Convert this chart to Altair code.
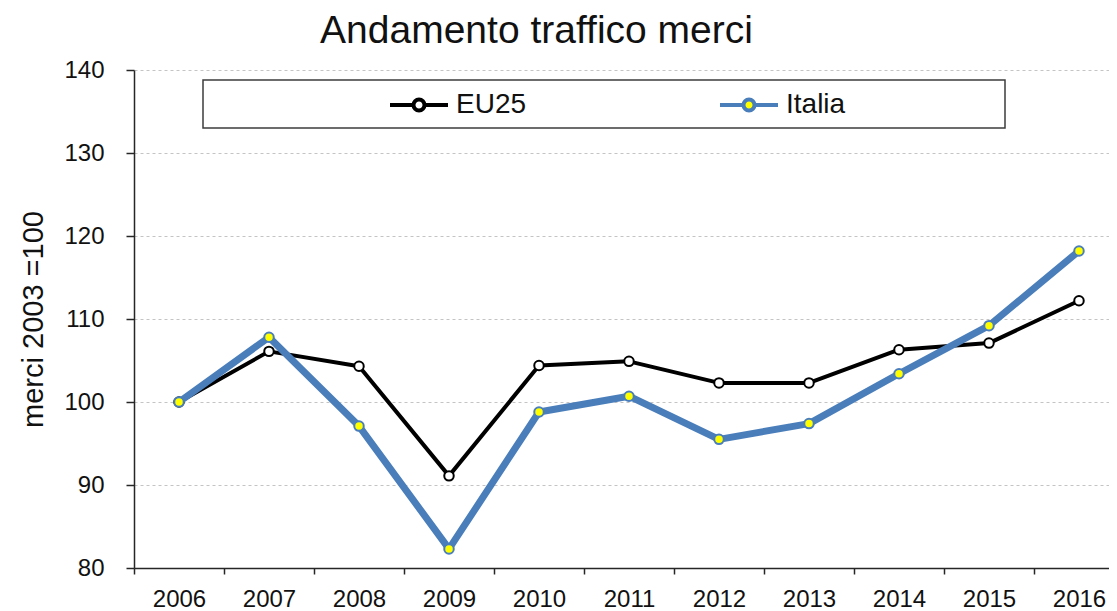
import altair as alt
import pandas as pd

# ---- data ----
years = [str(y) for y in range(2006, 2017)]
eu25 = [100.0, 106.1, 104.3, 91.1, 104.4, 104.9, 102.3, 102.3, 106.3, 107.1, 112.2]
italia = [100.0, 107.8, 97.1, 82.3, 98.8, 100.7, 95.5, 97.4, 103.4, 109.2, 118.2]
series_names = ["EU25", "Italia"]
y_ticks = [80, 90, 100, 110, 120, 130, 140]
title_text = "Andamento traffico merci"
y_title = "merci 2003 =100"

df = pd.DataFrame({
    "anno": years * 2,
    "valore": eu25 + italia,
    "serie": ["EU25"] * len(years) + ["Italia"] * len(years),
})

FONT = "Liberation Sans, Arial, Helvetica, sans-serif"
TXT = "#111111"
stroke_scale = alt.Scale(domain=series_names, range=["#000000", "#4A7EBB"])
fill_scale = alt.Scale(domain=series_names, range=["#FFFFFF", "#FFFF00"])

sym = ("M-1,0L-0.19,0M0.19,0L1,0M-0.19,0A0.19,0.19,0,1,1,0.19,0"
       "A0.19,0.19,0,1,1,-0.19,0Z")
legend = alt.Legend(
    title=None, orient="none", legendX=254, legendY=4, direction="horizontal",
    symbolType=sym, symbolSize=3364, symbolStrokeWidth=4,
    labelFontSize=28, labelFont=FONT, labelColor=TXT, labelOffset=6,
    columnPadding=185, padding=0,
)

x_enc = alt.X(
    "anno:O",
    scale=alt.Scale(type="band", range=[0, 990], paddingInner=0, paddingOuter=0),
    axis=alt.Axis(title=None, labelAngle=0, tickBand="extent", tickSize=6,
                  labelPadding=13, labelFontSize=24, grid=False),
)
y_enc = alt.Y(
    "valore:Q",
    scale=alt.Scale(domain=[80, 140], nice=False, zero=False),
    axis=alt.Axis(values=y_ticks, title=y_title, titleFontSize=29,
                  titleFontWeight="normal", titlePadding=16,
                  labelFontSize=24, labelPadding=22, tickSize=8,
                  minExtent=70, maxExtent=70, grid=True,
                  gridDash=[3, 3], gridColor="#c4c4c4", gridWidth=1),
)

base = alt.Chart(df).encode(x=x_enc, y=y_enc)

widths = {"EU25": 4, "Italia": 7}
layers = []

box = alt.Chart(pd.DataFrame({"k": [0]})).mark_rect(
    fill="white", stroke="#3c3c3c", strokeWidth=1.5
).encode(x=alt.value(69), x2=alt.value(871), y=alt.value(10), y2=alt.value(58))
layers.append(box)

title = alt.Chart(pd.DataFrame({"t": [title_text]})).mark_text(
    font=FONT, fontSize=39, align="center", baseline="alphabetic", color=TXT
).encode(text="t:N", x=alt.value(402.5), y=alt.value(-27))
layers.append(title)

for s in series_names:
    sub = base.transform_filter(alt.datum.serie == s)
    line = sub.mark_line(strokeWidth=widths[s], strokeJoin="round").encode(
        stroke=alt.Stroke("serie:N", scale=stroke_scale, legend=legend)
    )
    pts = sub.mark_point(shape="circle", size=90, strokeWidth=2,
                         opacity=1, fillOpacity=1).encode(
        stroke=alt.Stroke("serie:N", scale=stroke_scale, legend=legend),
        fill=alt.Fill("serie:N", scale=fill_scale, legend=legend),
    )
    layers += [line, pts]

chart = alt.layer(*layers).properties(
    width=975, height=498,
    autosize=alt.AutoSizeParams(type="none"),
    padding={"left": 126, "top": 62, "right": 0, "bottom": 45},
).configure_view(stroke=None).configure_axis(
    domainColor="#262626", tickColor="#262626", domainWidth=1.5, tickWidth=1.5,
    labelColor=TXT, titleColor=TXT, labelFont=FONT, titleFont=FONT,
)

chart.save("out.html", embed_options={"renderer": "svg", "actions": False})
